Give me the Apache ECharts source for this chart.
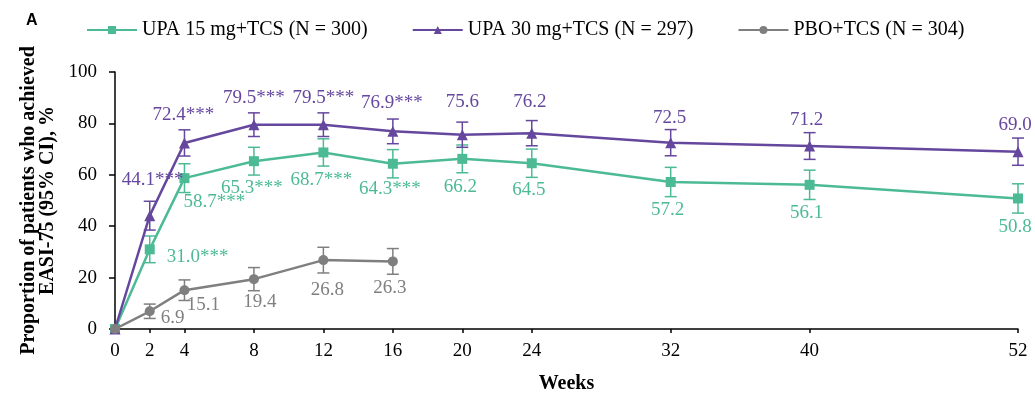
<!DOCTYPE html>
<html>
<head>
<meta charset="utf-8">
<script src="https://cdn.jsdelivr.net/npm/echarts@6/dist/echarts.min.js"></script>
<style>
  html, body { margin: 0; padding: 0; background: #fff; }
  #main { width: 1035px; height: 395px; }
</style>
</head>
<body>
<div id="main"></div>
<script>
// weeks on the x axis
var weeks = [0, 2, 4, 8, 12, 16, 20, 24, 32, 40, 52];
var weeksPbo = [0, 2, 4, 8, 12, 16];

// UPA 15 mg + TCS
var upa15 = [0, 31.0, 58.7, 65.3, 68.7, 64.3, 66.2, 64.5, 57.2, 56.1, 50.8];
var upa15Lo = [0, 25.8, 53.1, 59.9, 63.4, 58.8, 60.8, 59.0, 51.5, 50.4, 45.1];
var upa15Hi = [0, 36.2, 64.3, 70.7, 74.0, 69.8, 71.6, 70.0, 62.9, 61.8, 56.5];
var upa15Sig = ['', '***', '***', '***', '***', '***', '', '', '', '', ''];

// UPA 30 mg + TCS
var upa30 = [0, 44.1, 72.4, 79.5, 79.5, 76.9, 75.6, 76.2, 72.5, 71.2, 69.0];
var upa30Lo = [0, 38.5, 67.3, 74.9, 74.9, 72.1, 70.7, 71.3, 67.4, 66.0, 63.7];
var upa30Hi = [0, 49.7, 77.5, 84.1, 84.1, 81.7, 80.5, 81.1, 77.6, 76.4, 74.3];
var upa30Sig = ['', '***', '***', '***', '***', '***', '', '', '', '', ''];

// PBO + TCS
var pbo = [0, 6.9, 15.1, 19.4, 26.8, 26.3];
var pboLo = [0, 4.1, 11.1, 14.9, 21.8, 21.3];
var pboHi = [0, 9.7, 19.1, 23.9, 31.8, 31.3];
var pboSig = ['', '', '', '', '', ''];

var names = ['UPA 15 mg+TCS (N = 300)', 'UPA 30 mg+TCS (N = 297)', 'PBO+TCS (N = 304)'];

// label placement (offset of label centre from the point, px)
var upa15Off = [[0,0],[48,8],[30,24],[-2,27],[-2,28],[-3,25],[-2,28],[-3,27],[-3,28],[-3,28],[-3,29]];
var upa30Off = [[0,0],[3,-36],[-1,-28],[0,-27],[0,-27],[-1,-28],[0,-33],[-2,-31],[-1,-25],[-3,-26],[-3,-27]];
var pboOff = [[0,0],[23,7],[19,15],[6,23],[4,30],[-3,27]];

var cTeal = '#4dba96';
var cPurple = '#65479e';
var cGray = '#7f7f7f';
var serif = '"Liberation Serif", "DejaVu Serif", serif';

function buildLine(xs, ys, sig, off, color) {
  return xs.map(function (x, i) {
    return {
      value: [x, ys[i]],
      label: {
        show: i > 0,
        position: 'inside',
        offset: off[i],
        formatter: ys[i].toFixed(1) + sig[i],
        color: color,
        fontFamily: serif,
        fontSize: 19
      }
    };
  });
}

function buildBars(xs, lo, hi) {
  return xs.map(function (x, i) { return [x, lo[i], hi[i]]; });
}

// vertical CI bar with caps
function errorBars(id, data, color) {
  return {
    name: id,
    type: 'custom',
    data: data,
    z: 3,
    silent: true,
    itemStyle: { color: color },
    renderItem: function (params, api) {
      var x = api.value(0), lo = api.value(1), hi = api.value(2);
      if (hi === lo) return null;
      var pLo = api.coord([x, lo]);
      var pHi = api.coord([x, hi]);
      var w = 6;
      var st = { stroke: color, lineWidth: 1.5 };
      return {
        type: 'group',
        children: [
          { type: 'line', shape: { x1: pLo[0], y1: pLo[1], x2: pHi[0], y2: pHi[1] }, style: st },
          { type: 'line', shape: { x1: pLo[0] - w, y1: pLo[1], x2: pLo[0] + w, y2: pLo[1] }, style: st },
          { type: 'line', shape: { x1: pHi[0] - w, y1: pHi[1], x2: pHi[0] + w, y2: pHi[1] }, style: st }
        ]
      };
    }
  };
}

var myChart = echarts.init(document.getElementById('main'));

var option = {
  animation: false,
  title: {
    text: 'A',
    left: 21,
    top: 8,
    textStyle: { fontFamily: '"Liberation Sans", Arial, sans-serif', fontWeight: 'bold', fontSize: 16, color: '#000' }
  },
  legend: {
    left: 81,
    top: 15,
    itemWidth: 50,
    itemHeight: 10,
    itemGap: 44,
    textStyle: { fontFamily: serif, fontSize: 20, color: '#000' },
    data: names
  },
  grid: { left: 115, right: 17, top: 72, bottom: 66, outerBoundsMode: 'none' },
  xAxis: {
    type: 'value',
    min: 0,
    max: 52,
    name: 'Weeks',
    nameLocation: 'middle',
    nameGap: 45,
    nameTextStyle: { fontFamily: serif, fontWeight: 'bold', fontSize: 20, color: '#000' },
    axisLine: { lineStyle: { color: '#000', width: 1.5 } },
    axisTick: { customValues: weeks, length: 4, lineStyle: { color: '#000', width: 1.5 } },
    axisLabel: { customValues: weeks, margin: 13, fontFamily: serif, fontSize: 19, color: '#000' },
    splitLine: { show: false }
  },
  yAxis: {
    type: 'value',
    min: 0,
    max: 100,
    interval: 20,
    name: 'Proportion of patients who achieved\nEASI-75 (95% CI), %',
    nameLocation: 'middle',
    nameGap: 58,
    nameRotate: 90,
    nameTextStyle: { fontFamily: serif, fontWeight: 'bold', fontSize: 20, lineHeight: 19, color: '#000', align: 'center' },
    axisLine: { show: true, lineStyle: { color: '#000', width: 1.5 } },
    axisTick: { show: true, length: 6, lineStyle: { color: '#000', width: 1.5 } },
    axisLabel: { margin: 18, fontFamily: serif, fontSize: 19, color: '#000' },
    splitLine: { show: false }
  },
  series: [
    errorBars('ci15', buildBars(weeks, upa15Lo, upa15Hi), cTeal),
    errorBars('ci30', buildBars(weeks, upa30Lo, upa30Hi), cPurple),
    errorBars('ciPbo', buildBars(weeksPbo, pboLo, pboHi), cGray),
    {
      name: names[0],
      type: 'line',
      data: buildLine(weeks, upa15, upa15Sig, upa15Off, cTeal),
      symbol: 'rect',
      symbolSize: 10,
      itemStyle: { color: cTeal },
      lineStyle: { color: cTeal, width: 2.5 },
      z: 4
    },
    {
      name: names[1],
      type: 'line',
      data: buildLine(weeks, upa30, upa30Sig, upa30Off, cPurple),
      symbol: 'triangle',
      symbolSize: 11,
      itemStyle: { color: cPurple },
      lineStyle: { color: cPurple, width: 2.5 },
      z: 5
    },
    {
      name: names[2],
      type: 'line',
      data: buildLine(weeksPbo, pbo, pboSig, pboOff, cGray),
      symbol: 'circle',
      symbolSize: 10,
      itemStyle: { color: cGray },
      lineStyle: { color: cGray, width: 2.5 },
      z: 6
    }
  ]
};

myChart.setOption(option);
</script>
</body>
</html>
